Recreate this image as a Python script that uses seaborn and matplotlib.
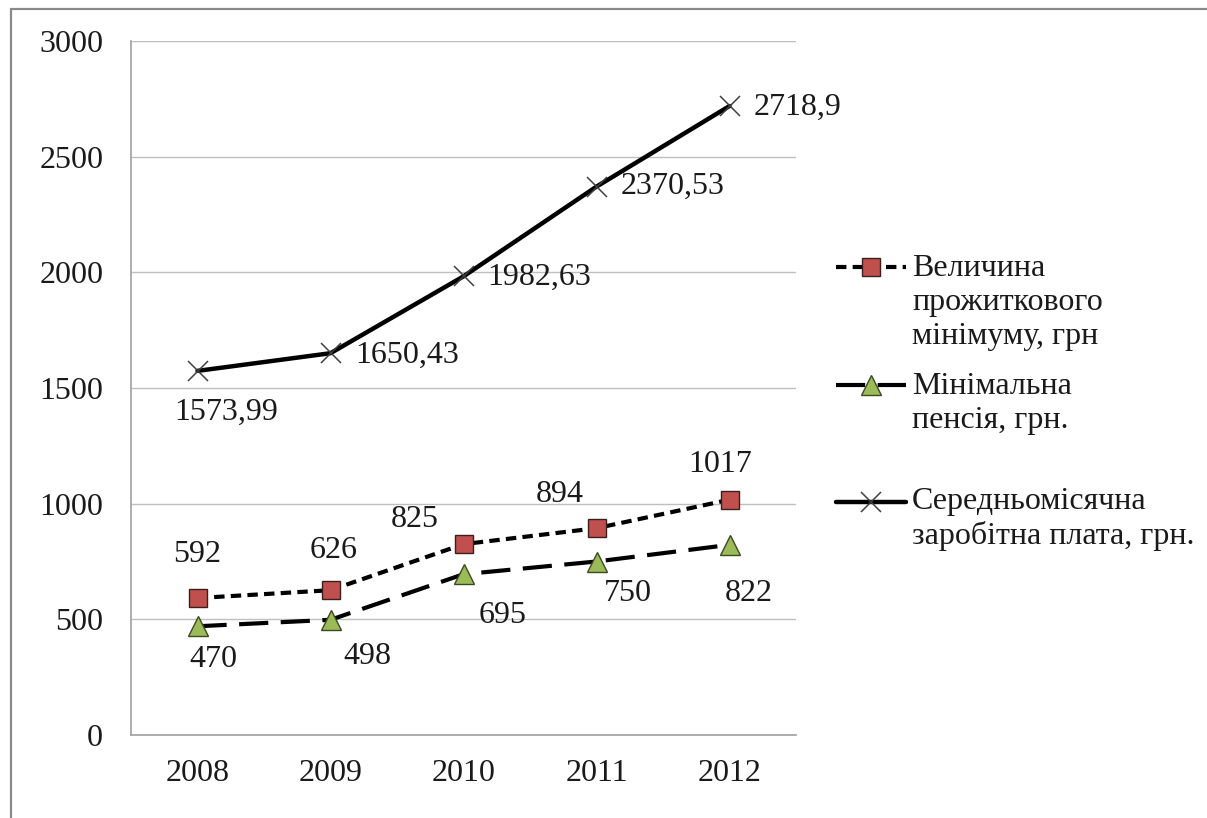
import numpy as np
import pandas as pd
import matplotlib
matplotlib.use("Agg")
import matplotlib.pyplot as plt
import seaborn as sns
from matplotlib.lines import Line2D
from matplotlib.patches import Rectangle

years = ["2008", "2009", "2010", "2011", "2012"]
living_min = [592, 626, 825, 894, 1017]
min_pension = [470, 498, 695, 750, 822]
avg_wage = [1573.99, 1650.43, 1982.63, 2370.53, 2718.9]

living_min_lbl = ["592", "626", "825", "894", "1017"]
min_pension_lbl = ["470", "498", "695", "750", "822"]
avg_wage_lbl = ["1573,99", "1650,43", "1982,63", "2370,53", "2718,9"]

names = ["Величина\nпрожиткового\nмінімуму, грн",
         "Мінімальна\nпенсія, грн.",
         "Середньомісячна\nзаробітна плата, грн."]

sns.set_style("white")
plt.rcParams["font.family"] = ["Liberation Serif", "DejaVu Serif"]
plt.rcParams["font.size"] = 23
FS = 23
TXT = "#1a1a1a"

W, H = 1207, 818
fig = plt.figure(figsize=(W / 100, H / 100), dpi=100)
ax = fig.add_axes([131 / W, 1 - 735 / H, 665 / W, 694 / H])

x = np.arange(len(years))
sq_style = dict(color="black", lw=3, linestyle=(0, (2.5, 1.5)), marker="s",
                markersize=13, markerfacecolor="#C0504D", markeredgecolor="#3b1e1e",
                markeredgewidth=1)
tr_style = dict(color="black", lw=3, linestyle=(0, (7, 3)), marker="^",
                markersize=15, markerfacecolor="#9BBB59", markeredgecolor="#3c4a22",
                markeredgewidth=1)
wg_style = dict(color="black", lw=3.2, linestyle="-", marker="x",
                markersize=14, markeredgecolor="#404040", markeredgewidth=1.1)

sns.lineplot(x=x, y=avg_wage, ax=ax, **wg_style)
sns.lineplot(x=x, y=min_pension, ax=ax, **tr_style)
sns.lineplot(x=x, y=living_min, ax=ax, **sq_style)

# data labels, offsets in pixels from the point
wg_off = [(29, -41), (25, -2), (24, -1), (24, 0), (24, -1)]
wg_ha = ["center", "left", "left", "left", "left"]
sq_off = [(0, 44), (3, 40), (-49, 25), (-37, 34), (-9, 35)]
tr_off = [(16, -33), (37, -37), (39, -41), (31, -32), (19, -49)]
for i in range(len(years)):
    ax.annotate(avg_wage_lbl[i], (x[i], avg_wage[i]), xytext=wg_off[i],
                textcoords="offset pixels", ha=wg_ha[i], va="center", color=TXT,
                fontsize=FS)
    ax.annotate(living_min_lbl[i], (x[i], living_min[i]), xytext=sq_off[i],
                textcoords="offset pixels", ha="center", va="center", color=TXT,
                fontsize=FS)
    ax.annotate(min_pension_lbl[i], (x[i], min_pension[i]), xytext=tr_off[i],
                textcoords="offset pixels", ha="center", va="center", color=TXT,
                fontsize=FS)

ax.set_xlim(-0.5, len(years) - 0.5)
ax.set_ylim(0, 3000)
ax.set_yticks(range(0, 3001, 500))
ax.set_xticks(x)
ax.set_xticklabels(years)
ax.set_xticks(np.arange(-0.5, len(years), 1.0), minor=True)
ax.grid(axis="y", color="#BFBFBF", lw=1)
ax.set_axisbelow(True)
for s in ["top", "right"]:
    ax.spines[s].set_visible(False)
for s in ["left", "bottom"]:
    ax.spines[s].set_color("#A0A0A0")
    ax.spines[s].set_linewidth(1.2)
ax.tick_params(axis="y", length=7, width=1.2, color="#A0A0A0", pad=13,
               labelsize=FS, labelcolor=TXT)
ax.tick_params(axis="x", which="major", length=0, pad=17, labelsize=FS,
               labelcolor=TXT)
ax.tick_params(axis="x", which="minor", length=7, width=1.2, color="#A0A0A0")

# hand-made legend so the handle sits on the first line of each label
handle_y = [267, 385, 502]
text_top = [254, 372, 487]
styles = [sq_style, tr_style, wg_style]
for hy, ty, st, nm in zip(handle_y, text_top, styles, names):
    yy = 1 - hy / H
    fig.add_artist(Line2D([836 / W, 871 / W, 906 / W], [yy, yy, yy],
                          transform=fig.transFigure, markevery=[1], **st))
    fig.text(912 / W, 1 - ty / H, nm, ha="left", va="top", fontsize=FS,
             color=TXT, linespacing=1.22)

fig.add_artist(Rectangle((11 / W, -0.1), 1.2, 1.1 - 9 / H, transform=fig.transFigure,
                         fill=False, edgecolor="#8a8a8a", lw=1.6))

fig.savefig("out.png", dpi=100)
